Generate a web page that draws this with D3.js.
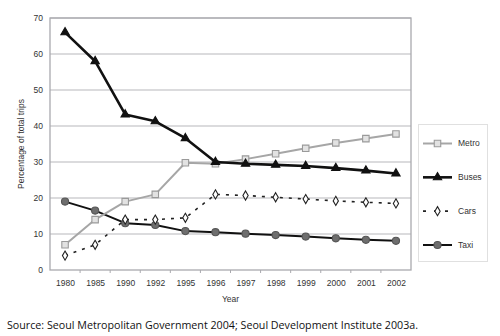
<!DOCTYPE html>
<html>
<head>
<meta charset="utf-8">
<script src="https://cdn.jsdelivr.net/npm/d3@7"></script>
<style>
  html, body { margin: 0; padding: 0; background: #fff; }
  svg { display: block; }
</style>
</head>
<body>
<svg id="chart" width="500" height="336"></svg>
<script>
// Modal share of trips in Seoul, 1980-2002 (percentage of total trips)
const years = ["1980", "1985", "1990", "1992", "1995", "1996", "1997", "1998", "1999", "2000", "2001", "2002"];
const metro = [7, 14, 19, 21, 29.8, 29.5, 30.8, 32.3, 33.8, 35.3, 36.5, 37.8];
const buses = [66, 58, 43.2, 41.3, 36.6, 30, 29.5, 29.2, 28.9, 28.3, 27.6, 26.8];
const cars  = [4, 7, 14, 14, 14.5, 21, 20.7, 20.2, 19.7, 19.2, 18.8, 18.5];
const taxi  = [19, 16.5, 13, 12.5, 10.8, 10.5, 10.1, 9.7, 9.3, 8.8, 8.4, 8.1];
const yTicks = [0, 10, 20, 30, 40, 50, 60, 70];
const seriesNames = ["Metro", "Buses", "Cars", "Taxi"];
const sourceNote = "Source: Seoul Metropolitan Government 2004; Seoul Development Institute 2003a.";

const svg = d3.select("#chart");
const plot = { left: 50, right: 411, top: 18, bottom: 270 };
const axisFont = "'Liberation Sans', Arial, sans-serif";

const x = d3.scalePoint().domain(years).range([plot.left, plot.right]).padding(0.5);
const xBand = d3.scaleBand().domain(years).range([plot.left, plot.right]);
const y = d3.scaleLinear().domain([0, 70]).range([plot.bottom, plot.top]);

// horizontal gridlines
svg.append("g").selectAll("line").data(yTicks.filter(t => t > 0)).join("line")
  .attr("x1", plot.left).attr("x2", plot.right)
  .attr("y1", d => y(d)).attr("y2", d => y(d))
  .attr("stroke", "#b8b8bc").attr("stroke-width", 1.2);

// plot frame
svg.append("rect")
  .attr("x", plot.left).attr("y", plot.top)
  .attr("width", plot.right - plot.left).attr("height", plot.bottom - plot.top)
  .attr("fill", "none").attr("stroke", "#a9a9ae").attr("stroke-width", 1.3);

// y axis
const yAxis = svg.append("g").attr("transform", `translate(${plot.left},0)`)
  .call(d3.axisLeft(y).tickValues(yTicks).tickSize(0).tickPadding(7));
yAxis.select(".domain").remove();
yAxis.selectAll("text").attr("font-family", axisFont).attr("font-size", 8.5).attr("fill", "#333");

// x axis with ticks between categories
const xAxis = svg.append("g").attr("transform", `translate(0,${plot.bottom})`)
  .call(d3.axisBottom(x).tickSize(0).tickPadding(10));
xAxis.select(".domain").remove();
xAxis.selectAll("text").attr("font-family", axisFont).attr("font-size", 8.5).attr("fill", "#333");
svg.append("g").selectAll("line").data(years.slice(1)).join("line")
  .attr("x1", d => xBand(d)).attr("x2", d => xBand(d))
  .attr("y1", plot.bottom).attr("y2", plot.bottom + 3)
  .attr("stroke", "#a9a9ae");

// axis titles
svg.append("text").attr("x", (plot.left + plot.right) / 2).attr("y", 302)
  .attr("text-anchor", "middle").attr("font-family", axisFont).attr("font-size", 8.5)
  .attr("fill", "#333").text("Year");
svg.append("text")
  .attr("transform", `translate(24,${(plot.top + plot.bottom) / 2}) rotate(-90)`)
  .attr("text-anchor", "middle").attr("font-family", axisFont).attr("font-size", 8.5)
  .attr("fill", "#333").text("Percentage of total trips");

// series styles
const styles = {
  Metro: { data: metro, stroke: "#a6a6a6", width: 2, dash: null, symbol: d3.symbolSquare, size: 42, fill: "#e2e2e2", mstroke: "#9a9a9a" },
  Buses: { data: buses, stroke: "#111", width: 2.6, dash: null, symbol: d3.symbolTriangle, size: 30, fill: "#111", mstroke: "#111" },
  Cars:  { data: cars,  stroke: "#222", width: 1.6, dash: "3,6", symbol: d3.symbolDiamond, size: 24, fill: "#fff", mstroke: "#222" },
  Taxi:  { data: taxi,  stroke: "#111", width: 2, dash: null, symbol: d3.symbolCircle, size: 40, fill: "#6e6e6e", mstroke: "#555" }
};

const line = d3.line().x((d, i) => x(years[i])).y(d => y(d));
const drawOrder = ["Taxi", "Cars", "Metro", "Buses"];

drawOrder.forEach(name => {
  const s = styles[name];
  const g = svg.append("g");
  g.append("path").datum(s.data)
    .attr("d", line).attr("fill", "none")
    .attr("stroke", s.stroke).attr("stroke-width", s.width)
    .attr("stroke-dasharray", s.dash).attr("stroke-linejoin", "round");
  g.selectAll("path.m").data(s.data).join("path").attr("class", "m")
    .attr("transform", (d, i) => `translate(${x(years[i])},${y(d)})`)
    .attr("d", d3.symbol(s.symbol, s.size))
    .attr("fill", s.fill).attr("stroke", s.mstroke).attr("stroke-width", 1.1);
});

// legend
const legend = svg.append("g");
legend.append("rect").attr("x", 418.5).attr("y", 124.5).attr("width", 69).attr("height", 137)
  .attr("fill", "#fff").attr("stroke", "#e0e0e0");
const legendY = d3.scalePoint().domain(seriesNames).range([143.5, 245]);
seriesNames.forEach(name => {
  const s = styles[name];
  const ly = legendY(name);
  legend.append("line").attr("x1", 423).attr("x2", 452).attr("y1", ly).attr("y2", ly)
    .attr("stroke", s.stroke).attr("stroke-width", s.width)
    .attr("stroke-dasharray", name === "Cars" ? "3,8" : null);
  legend.append("path").attr("transform", `translate(437.5,${ly})`)
    .attr("d", d3.symbol(s.symbol, s.size))
    .attr("fill", s.fill).attr("stroke", s.mstroke).attr("stroke-width", 1.1);
  legend.append("text").attr("x", 458).attr("y", ly).attr("dy", "0.35em")
    .attr("font-family", axisFont).attr("font-size", 8.5).attr("fill", "#333").text(name);
});

// source note
svg.append("text").attr("x", 7).attr("y", 329)
  .attr("font-family", "'Open Sans', 'Noto Sans', sans-serif").attr("font-size", 11.5)
  .attr("fill", "#111").attr("textLength", 411).attr("lengthAdjust", "spacingAndGlyphs")
  .text(sourceNote);
</script>
</body>
</html>
